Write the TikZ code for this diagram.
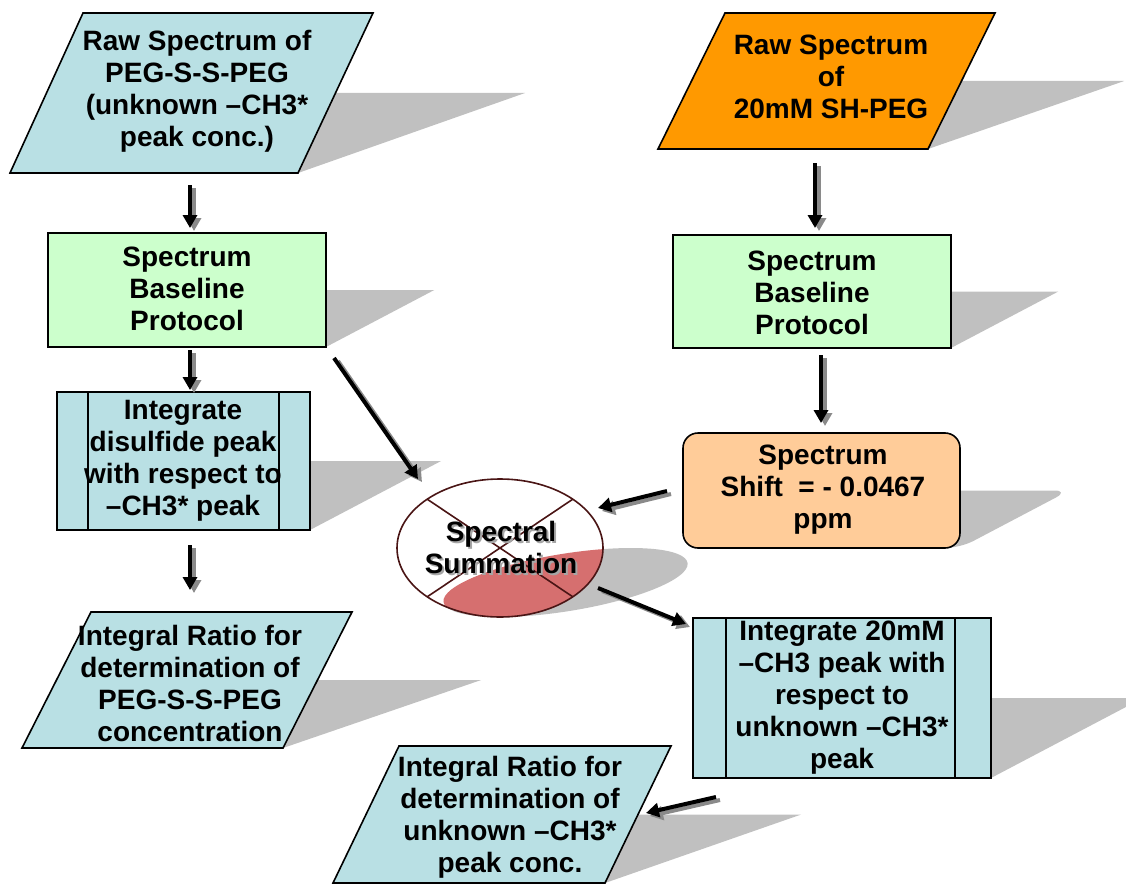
\documentclass[tikz,border=0pt]{standalone}
\usepackage{fontspec}
\setmainfont{Liberation Sans}
\usetikzlibrary{arrows.meta}
\definecolor{lblue}{HTML}{B9E0E4}
\definecolor{lgreen}{HTML}{CCFFCC}
\definecolor{orng}{HTML}{FF9900}
\definecolor{lorng}{HTML}{FFCC99}
\definecolor{shad}{HTML}{C0C0C0}
\definecolor{redfill}{HTML}{D66F6F}
\definecolor{ellline}{HTML}{4A1515}
\definecolor{arrshad}{HTML}{8A8A8A}
\begin{document}
\begin{tikzpicture}[x=1pt,y=-1pt,
  txt/.style={align=center, font=\fontsize{28}{32}\selectfont\bfseries, inner sep=0pt},
  boxline/.style={draw=black, line width=1.6pt, line join=miter},
  arr/.style={line width=4pt, -{Triangle[length=13pt,width=14pt]}, black},
  arrsh/.style={line width=4pt, -{Triangle[length=13pt,width=14pt]}, arrshad},
  shadowtf/.style={shift={(0,#1)}, cm={1,0,0.95,0.5,(0,0)}, shift={(0,-#1)}},
  shadfill/.style={fill=shad, draw=none},
]
\useasboundingbox (0,0) rectangle (1126,888);
\clip (0,0) rectangle (1126,888);

% ---------- shadows ----------
\begin{scope}[shadowtf=173]
  \fill[shadfill] (10,173) -- (298,173) -- (373,13) -- (83,13) -- cycle;
\end{scope}
\begin{scope}[shadowtf=149]
  \fill[shadfill] (658,149) -- (928,149) -- (995,13) -- (725,13) -- cycle;
\end{scope}
\begin{scope}[shadowtf=347]
  \fill[shadfill] (48,233) rectangle (326,347);
\end{scope}
\begin{scope}[shadowtf=348]
  \fill[shadfill] (673,235) rectangle (951,348);
\end{scope}
\begin{scope}[shadowtf=530]
  \fill[shadfill] (57,392) rectangle (310,530);
\end{scope}
\begin{scope}[shadowtf=548]
  \fill[shadfill, rounded corners=15pt] (683,433) rectangle (960,548);
\end{scope}
\begin{scope}[shadowtf=617]
  \fill[shadfill] (500,548) ellipse [x radius=103, y radius=69];
\end{scope}
\begin{scope}[shadowtf=748]
  \fill[shadfill] (22,748) -- (283,748) -- (352,612) -- (91,612) -- cycle;
\end{scope}
\begin{scope}[shadowtf=778]
  \fill[shadfill] (693,618) rectangle (991,778);
\end{scope}
\begin{scope}[shadowtf=883]
  \fill[shadfill] (333,883) -- (605,883) -- (671,746) -- (399,746) -- cycle;
\end{scope}

% ---------- shapes ----------
\draw[boxline, fill=lblue] (10,173) -- (298,173) -- (373,13) -- (83,13) -- cycle;
\node[txt] (raw1) at (197,91) {Raw Spectrum of\\PEG-S-S-PEG\\(unknown –CH3*\\peak conc.)};

\draw[boxline, fill=orng] (658,149) -- (928,149) -- (995,13) -- (725,13) -- cycle;
\node[txt] (raw2) at (831,77) {Raw Spectrum\\of\\20mM SH-PEG};

\draw[boxline, fill=lgreen] (48,233) rectangle (326,347);
\node[txt] (base1) at (187,289) {Spectrum\\Baseline\\Protocol};

\draw[boxline, fill=lgreen] (673,235) rectangle (951,348);
\node[txt] (base2) at (812,293) {Spectrum\\Baseline\\Protocol};

\draw[boxline, fill=lblue] (57,392) rectangle (310,530);
\draw[boxline] (88,392) -- (88,530) (279,392) -- (279,530);
\node[txt] (int1) at (183,461) {Integrate\\disulfide peak\\with respect to\\–CH3* peak};

\draw[boxline, fill=lorng, rounded corners=15pt] (683,433) rectangle (960,548);
\node[txt] (shift) at (823,490) {Spectrum\\Shift\ \ = - 0.0467\\ppm};

% ellipse
\fill[white] (500,548) ellipse [x radius=103, y radius=69];
\begin{scope}
  \clip (500,548) ellipse [x radius=103, y radius=69];
  \begin{scope}[shadowtf=617]
    \fill[redfill] (500,548) ellipse [x radius=103, y radius=69];
  \end{scope}
\end{scope}
\draw[ellline, line width=1.6pt] (427.2,499.2) -- (572.8,596.8) (572.8,499.2) -- (427.2,596.8);
\draw[ellline, line width=1.6pt] (500,548) ellipse [x radius=103, y radius=69];
\node[txt, text=gray!70] at (503,549) {Spectral\\Summation};
\node[txt] (sum) at (501,547) {Spectral\\Summation};

\draw[boxline, fill=lblue] (22,748) -- (283,748) -- (352,612) -- (91,612) -- cycle;
\node[txt] (ratio1) at (190,683) {Integral Ratio for\\determination of\\PEG-S-S-PEG\\concentration};

\draw[boxline, fill=lblue] (693,618) rectangle (991,778);
\draw[boxline] (726,618) -- (726,778) (955,618) -- (955,778);
\node[txt] (int2) at (842,698) {Integrate 20mM\\–CH3 peak with\\respect to\\unknown –CH3*\\peak};

\draw[boxline, fill=lblue] (333,883) -- (605,883) -- (671,746) -- (399,746) -- cycle;
\node[txt] (ratio2) at (510,817) {Integral Ratio for\\determination of\\unknown –CH3*\\peak conc.};

% ---------- arrows ----------
\coordinate (a1s) at (190,185); \coordinate (a1e) at (190,228);
\coordinate (a2s) at (190,350); \coordinate (a2e) at (190,390);
\coordinate (a3s) at (190,545); \coordinate (a3e) at (190,590);
\coordinate (a4s) at (334,358); \coordinate (a4e) at (418,479);
\coordinate (a5s) at (815,163); \coordinate (a5e) at (815,228);
\coordinate (a6s) at (821,355); \coordinate (a6e) at (821,423);
\coordinate (a7s) at (667,491); \coordinate (a7e) at (598,508);
\coordinate (a8s) at (598,588); \coordinate (a8e) at (686,624);
\coordinate (a9s) at (716,797); \coordinate (a9e) at (646,813);
\foreach \i in {1,...,9}{
  \draw[arrsh] ([xshift=4pt,yshift=-3pt]a\i s) -- ([xshift=4pt,yshift=-3pt]a\i e);
  \draw[arr] (a\i s) -- (a\i e);
}
\end{tikzpicture}
\end{document}
